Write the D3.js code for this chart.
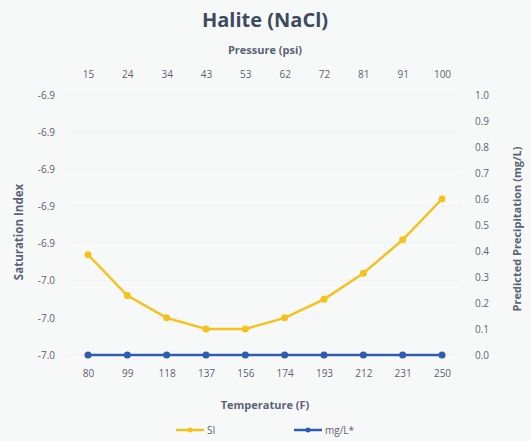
<!DOCTYPE html>
<html>
<head>
<meta charset="utf-8">
<script src="https://cdn.jsdelivr.net/npm/d3@7"></script>
<style>
  body { margin: 0; background: #f7f9f9; }
  text { font-family: "Open Sans", "Noto Sans", sans-serif; }
</style>
</head>
<body>
<script>
const width = 531, height = 441;
const margin = {left: 88, right: 89, top: 95, bottom: 86};

// data
const temperature = [80, 99, 118, 137, 156, 174, 193, 212, 231, 250];
const pressure = [15, 24, 34, 43, 53, 62, 72, 81, 91, 100];
const si = [-6.9498, -6.9509, -6.9515, -6.9518, -6.9518, -6.9515, -6.9510, -6.9503, -6.9494, -6.9483];
const mgL = [0, 0, 0, 0, 0, 0, 0, 0, 0, 0];
const siTicks = [-6.9525, -6.9515, -6.9505, -6.9495, -6.9485, -6.9475, -6.9465, -6.9455];
const mgTicks = [0, 0.1, 0.2, 0.3, 0.4, 0.5, 0.6, 0.7, 0.8, 0.9, 1.0];

const textColor = "#5b6275";
const titleColor = "#3e4a5e";
const yellow = "#f4c21c";
const blue = "#2f5bb0";

const svg = d3.select("body").append("svg")
  .attr("width", width)
  .attr("height", height);

const innerW = width - margin.left - margin.right;
const innerH = height - margin.top - margin.bottom;

const x = d3.scalePoint()
  .domain(temperature)
  .range([margin.left, margin.left + innerW]);

const xTop = d3.scalePoint()
  .domain(pressure)
  .range([margin.left, margin.left + innerW]);

const yLeft = d3.scaleLinear()
  .domain([siTicks[0], siTicks[siTicks.length - 1]])
  .range([margin.top + innerH, margin.top]);

const yRight = d3.scaleLinear()
  .domain([0, 1])
  .range([margin.top + innerH, margin.top]);

// faint gridlines
svg.append("g")
  .selectAll("line")
  .data(siTicks)
  .join("line")
    .attr("x1", margin.left - 20)
    .attr("x2", margin.left + innerW + 20)
    .attr("y1", d => yLeft(d))
    .attr("y2", d => yLeft(d))
    .attr("stroke", "#eef1f2")
    .attr("stroke-width", 1);

function styleAxis(g) {
  g.select(".domain").remove();
  g.selectAll(".tick line").remove();
  g.selectAll(".tick text")
    .attr("fill", textColor)
    .attr("font-size", 10);
}

svg.append("g")
  .attr("transform", `translate(0,${margin.top + innerH + 12})`)
  .call(d3.axisBottom(x).tickSize(0))
  .call(styleAxis);

svg.append("g")
  .attr("transform", `translate(0,${margin.top - 14})`)
  .call(d3.axisTop(xTop).tickSize(0))
  .call(styleAxis);

svg.append("g")
  .attr("transform", `translate(${margin.left - 30},0)`)
  .call(d3.axisLeft(yLeft).tickValues(siTicks).tickFormat(d => d.toFixed(1)).tickSize(0))
  .call(styleAxis);

svg.append("g")
  .attr("transform", `translate(${margin.left + innerW + 30},0)`)
  .call(d3.axisRight(yRight).tickValues(mgTicks).tickFormat(d3.format(".1f")).tickSize(0))
  .call(styleAxis);

// series
const siLine = d3.line()
  .x((d, i) => x(temperature[i]))
  .y(d => yLeft(d));

const mgLine = d3.line()
  .x((d, i) => x(temperature[i]))
  .y(d => yRight(d));

svg.append("path")
  .datum(mgL)
  .attr("fill", "none")
  .attr("stroke", blue)
  .attr("stroke-width", 2.5)
  .attr("d", mgLine);

svg.append("g")
  .selectAll("circle")
  .data(mgL)
  .join("circle")
    .attr("cx", (d, i) => x(temperature[i]))
    .attr("cy", d => yRight(d))
    .attr("r", 3.5)
    .attr("fill", blue);

svg.append("path")
  .datum(si)
  .attr("fill", "none")
  .attr("stroke", yellow)
  .attr("stroke-width", 2.5)
  .attr("d", siLine);

svg.append("g")
  .selectAll("circle")
  .data(si)
  .join("circle")
    .attr("cx", (d, i) => x(temperature[i]))
    .attr("cy", d => yLeft(d))
    .attr("r", 3.5)
    .attr("fill", yellow);

// titles
svg.append("text")
  .attr("x", 265)
  .attr("y", 27)
  .attr("text-anchor", "middle")
  .attr("font-size", 20)
  .attr("font-weight", "bold")
  .attr("fill", titleColor)
  .text("Halite (NaCl)");

svg.append("text")
  .attr("x", 265)
  .attr("y", 54)
  .attr("text-anchor", "middle")
  .attr("font-size", 11)
  .attr("font-weight", "bold")
  .attr("fill", textColor)
  .text("Pressure (psi)");

svg.append("text")
  .attr("x", 265)
  .attr("y", 409)
  .attr("text-anchor", "middle")
  .attr("font-size", 11)
  .attr("font-weight", "bold")
  .attr("fill", textColor)
  .text("Temperature (F)");

svg.append("text")
  .attr("transform", `translate(23,232) rotate(-90)`)
  .attr("text-anchor", "middle")
  .attr("font-size", 11.5)
  .attr("font-weight", "bold")
  .attr("fill", textColor)
  .text("Saturation Index");

svg.append("text")
  .attr("transform", `translate(521,229) rotate(-90)`)
  .attr("text-anchor", "middle")
  .attr("font-size", 11)
  .attr("font-weight", "bold")
  .attr("fill", textColor)
  .text("Predicted Precipitation (mg/L)");

// legend
const legend = [
  {name: "SI", color: yellow, x: 176},
  {name: "mg/L*", color: blue, x: 294}
];
const lg = svg.append("g").selectAll("g")
  .data(legend)
  .join("g")
    .attr("transform", d => `translate(${d.x},430)`);
lg.append("line")
  .attr("x1", 0).attr("x2", 28)
  .attr("stroke", d => d.color)
  .attr("stroke-width", 2.5);
lg.append("circle")
  .attr("cx", 14).attr("r", 2.5)
  .attr("fill", d => d.color);
lg.append("text")
  .attr("x", 31)
  .attr("dy", "0.35em")
  .attr("font-size", 10)
  .attr("fill", textColor)
  .text(d => d.name);
</script>
</body>
</html>
